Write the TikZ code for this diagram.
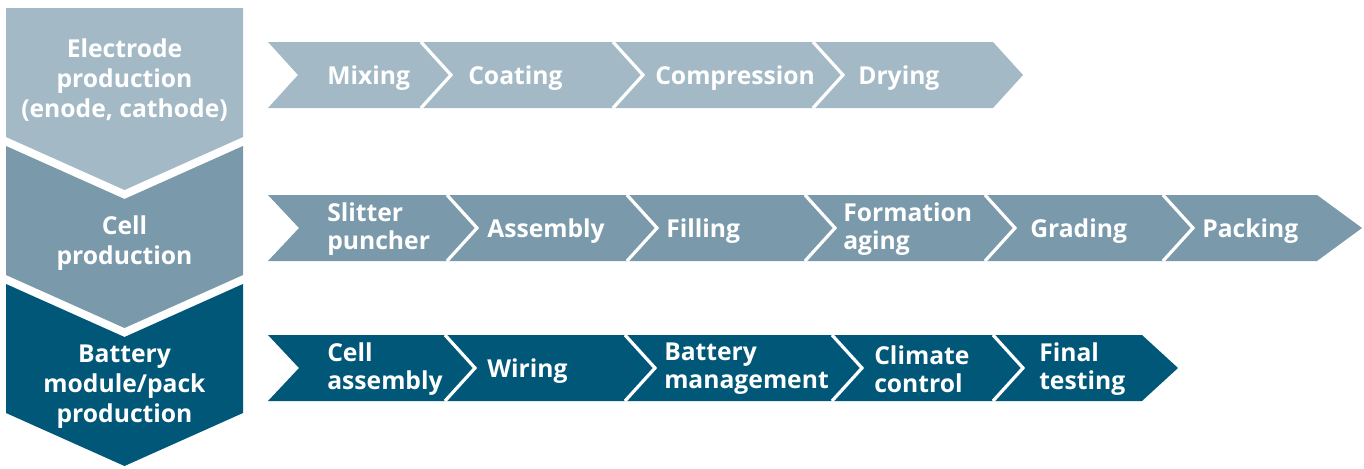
\documentclass[tikz,border=0pt]{standalone}
\usepackage{fontspec}
\setmainfont{Open Sans}
\definecolor{cA}{RGB}{163,186,198}
\definecolor{cB}{RGB}{122,153,170}
\definecolor{cC}{RGB}{0,87,120}
\tikzset{
  lbl/.style={text=white, font=\bfseries\fontsize{18.5}{21}\selectfont, anchor=west, align=left, inner sep=0pt},
  side/.style={text=white, font=\bfseries\fontsize{18.5}{22.5}\selectfont, anchor=center, align=center, inner sep=0pt},
  sep/.style={draw=white, line width=2.4pt, line join=miter},
}
\begin{document}
\begin{tikzpicture}[x=0.75pt,y=-0.75pt]
\useasboundingbox (0,0) rectangle (1364,468);
% left column
\fill[cA] (6,8) -- (243,8) -- (243,137) -- (124.5,190) -- (6,137) -- cycle;
\fill[cB] (6,146) -- (124.5,199) -- (243,146) -- (243,275) -- (124.5,328) -- (6,275) -- cycle;
\fill[cC] (6,284) -- (124.5,337) -- (243,284) -- (243,413) -- (124.5,466) -- (6,413) -- cycle;
\node[side] (s1) at (124.5,80) {Electrode\\production\\(enode, cathode)};
\node[side] (s2) at (124.5,243) {Cell\\production};
\node[side] (s3) at (124.5,387) {Battery\\module/pack\\production};
% row 1
\fill[cA] (268,42) -- (993,42) -- (1023,75) -- (993,108) -- (268,108) -- (298,75) -- cycle;
\foreach \s in {421,613,813} \draw[sep] (\s,42) -- (\s+30,75) -- (\s,108);
\node[lbl] (a1) at (327,78) {Mixing};
\node[lbl] (a2) at (468,78) {Coating};
\node[lbl] (a3) at (655,78) {Compression};
\node[lbl] (a4) at (858,78) {Drying};
% row 2
\fill[cB] (268,195) -- (1317,195) -- (1362,228) -- (1317,261) -- (268,261) -- (299,228) -- cycle;
\foreach \s in {447,627,805,985,1163} \draw[sep] (\s,195) -- (\s+30,228) -- (\s,261);
\node[lbl] (b1) at (327,229) {Slitter\\puncher};
\node[lbl] (b2) at (487,231) {Assembly};
\node[lbl] (b3) at (666,231) {Filling};
\node[lbl] (b4) at (843,229) {Formation\\aging};
\node[lbl] (b5) at (1030,231) {Grading};
\node[lbl] (b6) at (1202,231) {Packing};
% row 3
\fill[cC] (268,335) -- (1142,335) -- (1178,368) -- (1142,401) -- (268,401) -- (299,368) -- cycle;
\foreach \s in {445,625,832,993} \draw[sep] (\s,335) -- (\s+30,368) -- (\s,401);
\node[lbl] (c1) at (327,369) {Cell\\assembly};
\node[lbl] (c2) at (487,371) {Wiring};
\node[lbl] (c3) at (664,369) {Battery\\management};
\node[lbl] (c4) at (874,369) {Climate\\control};
\node[lbl] (c5) at (1039,369) {Final\\testing};
\end{tikzpicture}
\end{document}
